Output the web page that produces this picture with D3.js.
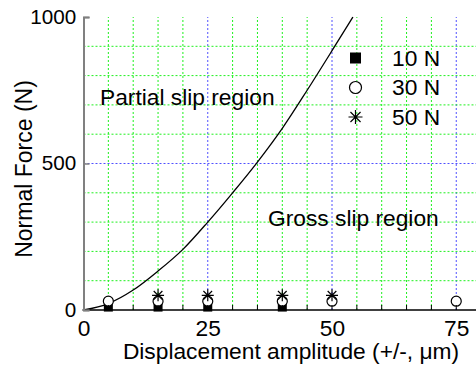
<!DOCTYPE html>
<html>
<head>
<meta charset="utf-8">
<script src="https://cdn.jsdelivr.net/npm/d3@7/dist/d3.min.js"></script>
<style>
  html, body { margin: 0; padding: 0; background: #fff; }
  svg { display: block; font-family: "Liberation Sans", Arial, sans-serif; }
</style>
</head>
<body>
<svg id="chart" width="476" height="369"></svg>
<script>
// Slip boundary between partial and gross slip (displacement µm, normal force N)
const boundaryX = [0, 5, 10, 15, 20, 25, 30, 35, 40, 45, 50, 54.2];
const boundaryY = [0, 22, 68, 133, 207, 300, 400, 505, 620, 750, 885, 1000];

// Test points per normal load
const disp10N = [5, 15, 25, 40];
const force10N = [10, 10, 10, 10];
const disp30N = [5, 15, 25, 40, 50, 75];
const force30N = [30, 30, 30, 30, 30, 30];
const disp50N = [15, 25, 40, 50];
const force50N = [50, 50, 50, 50];

const legendLabels = ["10 N", "30 N", "50 N"];
const xMajorTicks = [0, 25, 50, 75];
const yMajorTicks = [0, 500, 1000];

const svg = d3.select("#chart");
const x = d3.scaleLinear().domain([0, 80]).range([83.5, 481.1]);
const y = d3.scaleLinear().domain([0, 1000]).range([310, 17]);
const SX = 1.035; // horizontal glyph stretch

// stretched text placed at (tx, ty)
function label(g, tx, ty, txt, size, anchor) {
  return g.append("text")
    .attr("transform", `translate(${tx},${ty}) scale(${SX},1)`)
    .attr("text-anchor", anchor || "start")
    .attr("font-size", size).attr("fill", "#000").text(txt);
}

// grid
const grid = svg.append("g");
d3.range(5, 80, 5).forEach(v => {
  const major = v % 25 === 0;
  grid.append("line")
    .attr("x1", x(v)).attr("x2", x(v)).attr("y1", y(0)).attr("y2", y(1000))
    .attr("stroke", major ? "#5050ff" : "#1ef01e")
    .attr("stroke-width", 1).attr("stroke-dasharray", "2,2");
});
d3.range(100, 1000, 100).forEach(v => {
  const major = v % 500 === 0;
  grid.append("line")
    .attr("x1", x(0)).attr("x2", 476).attr("y1", y(v)).attr("y2", y(v))
    .attr("stroke", major ? "#5050ff" : "#1ef01e")
    .attr("stroke-width", 1).attr("stroke-dasharray", "2,2");
});

// boundary curve
const pts = boundaryX.map((d, i) => [d, boundaryY[i]]);
svg.append("path")
  .datum(pts)
  .attr("fill", "none").attr("stroke", "#000").attr("stroke-width", 1.3)
  .attr("d", d3.line().x(d => x(d[0])).y(d => y(d[1])).curve(d3.curveMonotoneX));

// marker shapes
function square(g, cx, cy, s) {
  g.append("rect").attr("x", cx - s / 2).attr("y", cy - s / 2)
    .attr("width", s).attr("height", s).attr("fill", "#000");
}
function circle(g, cx, cy, r) {
  g.append("circle").attr("cx", cx).attr("cy", cy).attr("r", r)
    .attr("fill", "#fff").attr("stroke", "#000").attr("stroke-width", 1.2);
}
function star(g, cx, cy, r) {
  const d = r * 0.72;
  const p = `M${cx - r},${cy}L${cx + r},${cy}M${cx},${cy - r}L${cx},${cy + r}` +
            `M${cx - d},${cy - d}L${cx + d},${cy + d}M${cx - d},${cy + d}L${cx + d},${cy - d}`;
  g.append("path").attr("d", p).attr("stroke", "#000").attr("stroke-width", 1.2).attr("fill", "none");
}

const marks = svg.append("g");
disp10N.forEach((d, i) => square(marks, x(d), y(force10N[i]), 9));
disp30N.forEach((d, i) => circle(marks, x(d), y(force30N[i]), 5));
disp50N.forEach((d, i) => star(marks, x(d), y(force50N[i]), 6));

// axes
const xAxis = svg.append("g").attr("transform", `translate(0,${y(0)})`)
  .call(d3.axisBottom(x).tickValues(xMajorTicks).tickSize(0).tickPadding(10).tickFormat(d3.format("d")));
xAxis.select(".domain").remove();
xAxis.selectAll("text").attr("font-size", 22).attr("fill", "#000")
  .attr("transform", `scale(${SX},1)`)
  .attr("font-family", "Liberation Sans, Arial, sans-serif");
svg.append("line").attr("x1", x(0) - 1).attr("x2", 476).attr("y1", y(0)).attr("y2", y(0))
  .attr("stroke", "#000").attr("stroke-width", 1.5);
d3.range(5, 80, 5).forEach(v => {
  svg.append("line").attr("x1", x(v)).attr("x2", x(v)).attr("y1", y(0)).attr("y2", y(0) - 5)
    .attr("stroke", "#000").attr("stroke-width", 1);
});

const yAxis = svg.append("g").attr("transform", `translate(${x(0)},0)`)
  .call(d3.axisRight(y).tickValues(yMajorTicks).tickSize(6).tickFormat(d3.format("d")));
yAxis.select(".domain").attr("stroke", "#808080").attr("stroke-width", 2);
yAxis.selectAll(".tick line").attr("stroke", "#808080").attr("stroke-width", 1.5);
yAxis.selectAll("text").attr("font-size", 20).attr("fill", "#000")
  .attr("x", -7).attr("text-anchor", "end")
  .attr("transform", `scale(${SX},1)`)
  .attr("font-family", "Liberation Sans, Arial, sans-serif");

// axis titles
label(svg, 291, 359, "Displacement amplitude (+/-, \u03bcm)", 22, "middle");
svg.append("text").attr("transform", "translate(32,169) rotate(-90)")
  .attr("text-anchor", "middle").attr("font-size", 23).text("Normal Force (N)");

// region labels
label(svg, 100, 105, "Partial slip region", 22);
label(svg, 268, 226, "Gross slip region", 22);

// legend
const leg = svg.append("g");
const legY = [58, 87.5, 117];
square(leg, 355.5, legY[0], 11);
circle(leg, 355.5, legY[1], 6);
star(leg, 355.5, legY[2], 7);
legendLabels.forEach((t, i) => label(leg, 392, legY[i] + 7.5, t, 22));
</script>
</body>
</html>
